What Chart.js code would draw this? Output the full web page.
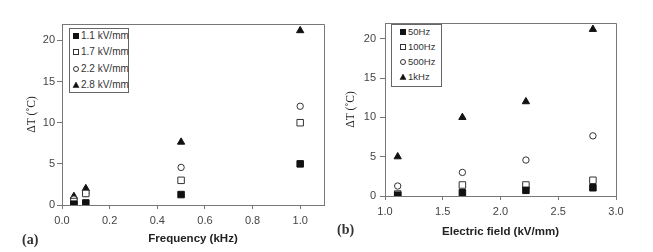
<!DOCTYPE html>
<html>
<head>
<meta charset="utf-8">
<script src="https://cdn.jsdelivr.net/npm/chart.js@4/dist/chart.umd.min.js"></script>
<style>
  html, body { margin:0; padding:0; background:#fff; }
  body { width:653px; height:252px; position:relative; overflow:hidden; font-family:"Liberation Sans", Arial, sans-serif; }
  .wrap { position:absolute; top:0; width:330px; height:252px; }
  .legend { position:absolute; border:1px solid #666; background:#fff; box-sizing:border-box; color:#333; }
  .legend .row { position:absolute; left:0; height:12px; white-space:nowrap; }
  .legend svg { position:absolute; overflow:visible; }
  .legend span { position:absolute; top:0; line-height:12px; }
  .panel { position:absolute; font-family:"Liberation Serif", "Times New Roman", serif; font-size:14px; font-weight:bold; line-height:16px; color:#333; }
</style>
</head>
<body>
<div class="wrap" id="wa" style="left:0"><canvas id="ca" width="330" height="252"></canvas></div>
<div class="wrap" id="wb" style="left:323px"><canvas id="cb" width="330" height="252"></canvas></div>
<div class="legend" id="la" style="left:69px;top:28px;width:60px;height:65px;font-size:10px"></div>
<div class="legend" id="lb" style="left:391px;top:24px;width:51px;height:63px;font-size:9.5px"></div>
<div class="panel" style="left:22px;top:232px">(a)</div>
<div class="panel" style="left:337px;top:222px">(b)</div>
<script>
// ---- data: panel (a) ΔT vs frequency ----
const frequencies = [0.05, 0.1, 0.5, 1.0];          // kHz
const fieldLabels = ['1.1 kV/mm', '1.7 kV/mm', '2.2 kV/mm', '2.8 kV/mm'];
const dT_1_1 = [0.1, 0.25, 1.27, 5.0];
const dT_1_7 = [0.42, 1.4, 3.0, 10.0];
const dT_2_2 = [0.72, 1.4, 4.57, 12.0];
const dT_2_8 = [1.05, 2.0, 7.65, 21.2];

// ---- data: panel (b) ΔT vs electric field ----
const fields = [1.11, 1.67, 2.22, 2.8];            // kV/mm
const freqLabels = ['50Hz', '100Hz', '500Hz', '1kHz'];
const dT_50 = [0.1, 0.42, 0.72, 1.05];
const dT_100 = [0.25, 1.4, 1.4, 2.0];
const dT_500 = [1.27, 3.0, 4.57, 7.65];
const dT_1k = [5.0, 10.0, 12.0, 21.2];

const xTicksA = [0, 0.2, 0.4, 0.6, 0.8, 1.0];
const xTicksB = [1.0, 1.5, 2.0, 2.5, 3.0];
const yTicks = [0, 5, 10, 15, 20];

const styles = [
  {pointStyle:'rect', fill:'#111', stroke:'#111', r:4.6},
  {pointStyle:'rect', fill:'#fff', stroke:'#333', r:4.6},
  {pointStyle:'circle', fill:'#fff', stroke:'#333', r:3.2},
  {pointStyle:'triangle', fill:'#111', stroke:'#111', r:4.2}
];

function mk(xs, ys, label, i) {
  const s = styles[i];
  return {
    label,
    data: xs.map((x, k) => ({x, y: ys[k]})),
    pointStyle: s.pointStyle,
    backgroundColor: s.fill,
    borderColor: s.stroke,
    pointRadius: s.r,
    pointBorderWidth: 1,
    showLine: false
  };
}

const framePlugin = {
  id: 'frame',
  afterDraw(chart) {
    const a = chart.chartArea, ctx = chart.ctx;
    ctx.save();
    ctx.strokeStyle = '#777';
    ctx.lineWidth = 1;
    ctx.beginPath();
    ctx.moveTo(Math.round(a.left) + 0.5, Math.round(a.top) + 0.5);
    ctx.lineTo(Math.round(a.right) + 0.5, Math.round(a.top) + 0.5);
    ctx.lineTo(Math.round(a.right) + 0.5, Math.round(a.bottom) + 0.5);
    ctx.stroke();
    ctx.restore();
  }
};

function makeChart(canvas, datasets, xCfg) {
  return new Chart(canvas, {
    type: 'scatter',
    data: { datasets },
    plugins: [framePlugin],
    options: {
      animation: false,
      responsive: false,
      devicePixelRatio: 1,
      layout: { padding: xCfg.padding },
      plugins: { legend: { display: false }, tooltip: { enabled: false } },
      scales: {
        x: {
          type: 'linear', min: xCfg.min, max: xCfg.max,
          afterFit(s) { s.height = xCfg.axisH; },
          afterBuildTicks(s) { s.ticks = xCfg.ticks.map(v => ({value: v})); },
          ticks: { callback: v => Number(v).toFixed(1), font: {family: '"Liberation Sans", Arial', size: 11}, color: '#444', padding: 5, maxRotation: 0, autoSkip: false },
          grid: { drawOnChartArea: false, drawTicks: true, tickLength: 4, color: '#777' },
          border: { color: '#777', width: 1 },
          title: { display: true, text: xCfg.title, font: {family: '"Liberation Sans", Arial', size: 11.5, weight: 'bold'}, color: '#222', padding: {top: 0, bottom: xCfg.titlePad} }
        },
        y: {
          type: 'linear', min: 0, max: 22,
          afterFit(s) { s.width = 62; },
          afterBuildTicks(s) { s.ticks = yTicks.map(v => ({value: v})); },
          ticks: { font: {family: '"Liberation Sans", Arial', size: 11}, color: '#444', padding: xCfg.yTickPad },
          grid: { drawOnChartArea: false, drawTicks: true, tickLength: 5, color: '#777' },
          border: { color: '#777', width: 1 },
          title: { display: true, text: 'ΔT (˚C)', font: {family: '"Liberation Serif", "Times New Roman", serif', size: 11.5}, color: '#222', padding: {top: xCfg.yTitlePad, bottom: 0} }
        }
      }
    }
  });
}

const chartA = makeChart(document.getElementById('ca'), [
  mk(frequencies, dT_1_1, fieldLabels[0], 0),
  mk(frequencies, dT_1_7, fieldLabels[1], 1),
  mk(frequencies, dT_2_2, fieldLabels[2], 2),
  mk(frequencies, dT_2_8, fieldLabels[3], 3)
], { min: 0, max: 1.1, ticks: xTicksA, axisH: 47, title: 'Frequency (kHz)', titlePad: 6, yTitlePad: 25, yTickPad: 2, padding: {top: 24, right: 6, left: 0, bottom: 0} });

const chartB = makeChart(document.getElementById('cb'), [
  mk(fields, dT_50, freqLabels[0], 0),
  mk(fields, dT_100, freqLabels[1], 1),
  mk(fields, dT_500, freqLabels[2], 2),
  mk(fields, dT_1k, freqLabels[3], 3)
], { min: 1.0, max: 3.0, ticks: xTicksB, axisH: 56, title: 'Electric field (kV/mm)', titlePad: 13, yTitlePad: 21, yTickPad: 4, padding: {top: 23, right: 37, left: 0, bottom: 0} });

function markerSVG(ds, cx, cy, size) {
  const h = size / 2;
  const f = ds.backgroundColor, s = ds.borderColor;
  let shape;
  if (ds.pointStyle === 'rect') shape = `<rect x="${cx-h}" y="${cy-h}" width="${size}" height="${size}" fill="${f}" stroke="${s}" stroke-width="1"/>`;
  else if (ds.pointStyle === 'circle') shape = `<circle cx="${cx}" cy="${cy}" r="${h}" fill="${f}" stroke="${s}" stroke-width="1"/>`;
  else shape = `<polygon points="${cx},${cy-h-0.5} ${cx+h+0.5},${cy+h} ${cx-h-0.5},${cy+h}" fill="${f}" stroke="${s}" stroke-width="0.5"/>`;
  return `<svg width="1" height="1" style="left:0;top:0">${shape}</svg>`;
}

function buildLegend(el, chart, rowsY, mx, tx, size) {
  chart.data.datasets.forEach((ds, i) => {
    const row = document.createElement('div');
    row.className = 'row';
    row.style.top = (rowsY[i] - 6) + 'px';
    row.style.width = '100%';
    row.innerHTML = markerSVG(ds, mx, 6, size) + `<span style="left:${tx}px">${ds.label}</span>`;
    el.appendChild(row);
  });
}
buildLegend(document.getElementById('la'), chartA, [7, 23, 40, 56], 6, 11, 5);
buildLegend(document.getElementById('lb'), chartB, [7, 22, 37, 52], 11, 16, 5);
</script>
</body>
</html>
